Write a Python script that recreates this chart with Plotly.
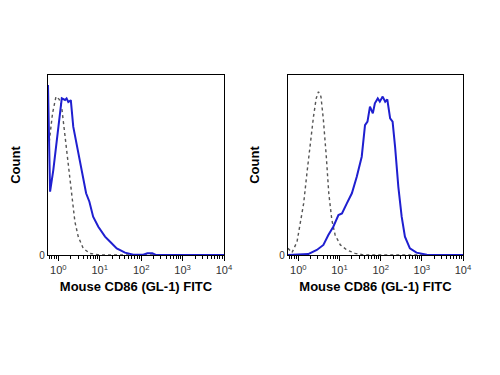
import plotly.graph_objects as go
from plotly.subplots import make_subplots

# Left panel (unstimulated) - fluorescence (linear units) and count (relative)
left_stain_x = [0.562, 0.631, 0.755, 0.912, 1.05, 1.21, 1.45, 1.58, 1.74, 2.0, 2.29, 2.69, 3.24, 3.89,
                4.68, 5.62, 6.92, 9.23, 13.4, 17.8, 25.7, 40.7, 64.6, 112, 141, 186, 224, 10000]
left_stain_y = [94.4, 35.2, 47.2, 63.9, 73.1, 87, 86.1, 87, 85, 86, 71.3, 63, 54.6, 45.4,
                34.3, 29.6, 21.3, 15.7, 10.2, 7.4, 3.7, 1.3, 0.2, 0.2, 1, 1, 0, 0]
left_ctrl_x = [0.603, 0.724, 0.877, 1.05, 1.20, 1.37, 1.58, 1.84, 2.14, 2.51, 3.02, 3.98, 5.75, 10, 10000]
left_ctrl_y = [63, 78.7, 88, 86.5, 82.4, 71.3, 56.5, 43.5, 30.6, 18.5, 10.2, 3.7, 0.9, 0, 0]

# Right panel (stimulated)
right_stain_x = [0.562, 1.74, 2.82, 4.07, 5.37, 7.08, 9.44, 11.5, 15.1, 20.0, 26.3, 34.7, 41.7, 47.9,
                 55.0, 64.6, 72.4, 85.1, 95.5, 112, 129, 145, 170, 195, 224, 269, 324, 389, 513,
                 741, 1320, 10000]
right_stain_y = [0, 0.5, 2.8, 5.6, 11.1, 15.7, 22.2, 23.1, 28.7, 34.3, 43.5, 54.6, 72.2, 74.1,
                 82.4, 78.7, 84.3, 87, 85.2, 88, 85.2, 86.5, 75.9, 74.1, 60.2, 37.9, 21.3, 10.2, 3.7,
                 1.3, 0.2, 0]
right_ctrl_x = [0.562, 0.703, 0.933, 1.12, 1.35, 1.62, 1.95, 2.34, 2.72, 3.09, 3.55, 4.07, 4.79,
                5.50, 6.53, 7.85, 10.5, 15.1, 24.0, 39.8, 10000]
right_ctrl_y = [3.7, 1.3, 7.4, 17.6, 28.7, 45.4, 62, 76.9, 87, 90.7, 88, 75, 54.6,
                34.3, 19.4, 11.1, 5.6, 2.8, 0.9, 0, 0]

major_ticks = [1, 10, 100, 1000, 10000]
major_text = ["10<sup>0</sup>", "10<sup>1</sup>", "10<sup>2</sup>", "10<sup>3</sup>", "10<sup>4</sup>"]
x_title = "<b>Mouse CD86 (GL-1) FITC</b>"
y_title = "<b>Count</b>"

minor_vals = [m * 10 ** e for e in range(-1, 4) for m in range(2, 10)]

BLUE = "#1f1fd0"
GRAY = "#555555"

fig = make_subplots(rows=1, cols=2)

for col, (sx, sy, cx, cy) in enumerate([
        (left_stain_x, left_stain_y, left_ctrl_x, left_ctrl_y),
        (right_stain_x, right_stain_y, right_ctrl_x, right_ctrl_y)], start=1):
    fig.add_trace(go.Scatter(x=cx, y=cy, mode="lines",
                             line=dict(color=GRAY, width=1.4, dash="dot"),
                             showlegend=False), row=1, col=col)
    fig.add_trace(go.Scatter(x=sx, y=sy, mode="lines",
                             line=dict(color=BLUE, width=2),
                             showlegend=False), row=1, col=col)

FAM = "Liberation Sans, Arial, sans-serif"
font = dict(family=FAM, color="black")

axis_common = dict(
    type="log", range=[-0.25, 4], showgrid=False, zeroline=False, automargin=False,
    showline=True, linecolor="black", linewidth=1.3, mirror=True,
    tickvals=major_ticks, ticktext=major_text, ticks="outside", ticklen=5,
    tickcolor="black", tickfont=dict(size=11, color="#333", family=FAM),
    minor=dict(tickvals=minor_vals, ticks="outside", ticklen=3, tickcolor="black"),
    title=dict(text=x_title, font=dict(size=13, family=FAM, color="black"), standoff=6),
)
yaxis_common = dict(
    range=[0, 100], showgrid=False, zeroline=False, automargin=False,
    showline=True, linecolor="black", linewidth=1.3, mirror=True,
    tickvals=[0], ticktext=["0"], ticks="",
    tickfont=dict(size=10, color="#333", family=FAM),
    title=dict(text=y_title, font=dict(size=13, family=FAM, color="black"), standoff=16),
)

# page body has an 8px margin, so positions are offset by 8px
fig.update_layout(
    width=500, height=375,
    margin=dict(l=0, r=0, t=0, b=0),
    paper_bgcolor="white", plot_bgcolor="white",
    font=font,
    xaxis=dict(domain=[40 / 500, 216 / 500], **axis_common),
    xaxis2=dict(domain=[280 / 500, 455 / 500], **axis_common),
    yaxis=dict(domain=[128 / 375, 308 / 375], **yaxis_common),
    yaxis2=dict(domain=[128 / 375, 308 / 375], **yaxis_common),
)

fig.write_html("out.html")
